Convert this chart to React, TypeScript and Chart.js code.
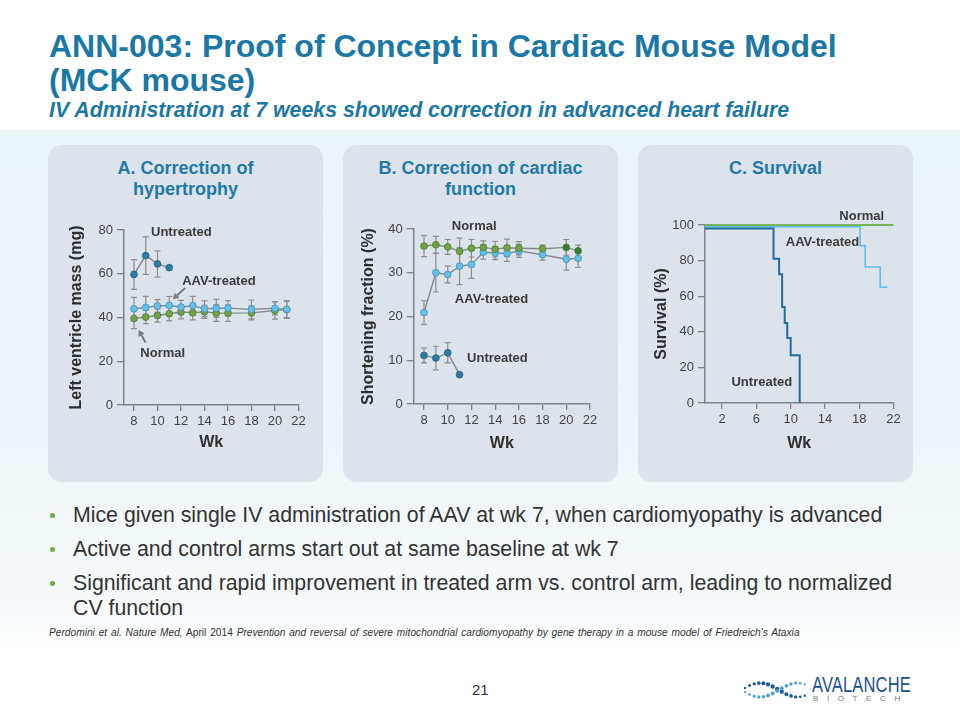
import React, { useEffect, useRef } from "react";
import { Chart, registerables } from "chart.js";
Chart.register(...registerables);

const FONT = "'Liberation Sans', Arial, Helvetica, sans-serif";

// ---------- Panel A: Left ventricle mass (mg) ----------
const weeks = [8, 9, 10, 11, 12, 13, 14, 15, 16, 18, 20, 21];
const weeksUntreated = [8, 9, 10, 11];
const lvmUntreated = [59.7, 68.3, 64.5, 62.8];
const lvmUntreatedErr = [6.8, 8.6, 6.0, 0];
const lvmAAV = [44.0, 44.6, 45.3, 45.5, 44.8, 45.4, 44.0, 44.2, 44.3, 43.7, 44.2, 43.7];
const lvmAAVErr = [5.2, 5.1, 2.9, 4.1, 3.0, 4.3, 3.6, 4.1, 3.4, 4.3, 3.0, 3.8];
const lvmNormal = [39.5, 40.2, 40.9, 41.7, 42.5, 42.2, 42.6, 42.0, 42.0, 42.1, 43.2, 43.6];
const lvmNormalErr = [4.6, 3.0, 3.0, 3.2, 3.1, 3.3, 3.0, 3.8, 3.8, 3.2, 3.9, 4.0];

// ---------- Panel B: Shortening fraction (%) ----------
const sfNormal = [36.1, 36.4, 35.9, 34.9, 35.6, 35.8, 35.4, 35.7, 35.6, 35.5, 35.8, 35.0];
const sfNormalErr = [2.4, 1.9, 1.7, 3.0, 2.0, 1.5, 1.8, 2.0, 1.5, 0.8, 1.8, 1.3];
const sfAAV = [20.9, 30.0, 29.6, 31.5, 31.9, 34.7, 34.5, 34.4, 35.0, 34.1, 33.1, 33.3];
const sfAAVErr = [2.7, 4.4, 1.9, 4.2, 3.2, 1.6, 1.5, 1.8, 1.5, 1.2, 2.5, 2.1];
const sfUntreated = [11.1, 10.5, 11.7, 6.7];
const sfUntreatedErr = [1.7, 2.7, 2.3, 0];

// ---------- Panel C: Survival (%) ----------
const survWeeksUntreated = [0, 8.0, 8.65, 9.0, 9.3, 9.6, 10.0, 11.05];
const survUntreated = [98, 81, 72.3, 54, 45, 36.5, 26.8, 0];
const survWeeksAAV = [0, 18.1, 18.7, 20.45, 21.3];
const survAAV = [99, 88.4, 76.4, 65, 65];
const survWeeksNormal = [0, 22];
const survNormal = [100, 100];

// ---------- Tick labels ----------
const xTicksAB = [8, 10, 12, 14, 16, 18, 20, 22];
const yTicksA = [0, 20, 40, 60, 80];
const yTicksB = [0, 10, 20, 30, 40];
const xTicksC = [2, 6, 10, 14, 18, 22];
const yTicksC = [0, 20, 40, 60, 80, 100];

const AXIS = "#7e8185";
const LINE_GRAY = "#85898d";
const ERR_GRAY = "#8a8d91";
const TEXT_DARK = "#2e2e2e";
const C_UNTREATED = "#2c7ba2";
const C_AAV = "#5cc1ec";
const C_NORMAL = "#6ea443";
const C_NORMAL_DARK = "#2f7f2e";

type Err = { xs: number[]; ys: number[]; err: number[] };
type Lbl = { text: string; x: number; y: number };
type Arr = { x1: number; y1: number; x2: number; y2: number };

function overlay(errs: Err[], labels: Lbl[], arrows: Arr[]) {
  return {
    id: "overlay",
    beforeDatasetsDraw(chart: any) {
      const { ctx, scales } = chart;
      const x = scales.x, y = scales.y;
      ctx.save();
      ctx.strokeStyle = ERR_GRAY;
      ctx.lineWidth = 1.2;
      errs.forEach((eb) => {
        eb.xs.forEach((xv, i) => {
          const e = eb.err[i];
          if (!e) return;
          const px = x.getPixelForValue(xv);
          const y1 = y.getPixelForValue(eb.ys[i] - e);
          const y2 = y.getPixelForValue(eb.ys[i] + e);
          ctx.beginPath();
          ctx.moveTo(px, y1);
          ctx.lineTo(px, y2);
          ctx.moveTo(px - 3, y1);
          ctx.lineTo(px + 3, y1);
          ctx.moveTo(px - 3, y2);
          ctx.lineTo(px + 3, y2);
          ctx.stroke();
        });
      });
      ctx.restore();
    },
    afterDraw(chart: any) {
      const { ctx, scales } = chart;
      const x = scales.x, y = scales.y;
      ctx.save();
      ctx.fillStyle = "#3a3a3a";
      ctx.font = `bold 13px ${FONT}`;
      ctx.textAlign = "left";
      ctx.textBaseline = "middle";
      labels.forEach((l) => {
        ctx.fillText(l.text, x.getPixelForValue(l.x), y.getPixelForValue(l.y));
      });
      ctx.strokeStyle = "#7a7a7a";
      ctx.fillStyle = "#7a7a7a";
      ctx.lineWidth = 2;
      arrows.forEach((a) => {
        const p1x = x.getPixelForValue(a.x1), p1y = y.getPixelForValue(a.y1);
        const p2x = x.getPixelForValue(a.x2), p2y = y.getPixelForValue(a.y2);
        const ang = Math.atan2(p2y - p1y, p2x - p1x);
        const hl = 6, hw = 3.5;
        const bx = p2x - hl * Math.cos(ang), by = p2y - hl * Math.sin(ang);
        ctx.beginPath();
        ctx.moveTo(p1x, p1y);
        ctx.lineTo(bx, by);
        ctx.stroke();
        ctx.beginPath();
        ctx.moveTo(p2x, p2y);
        ctx.lineTo(bx + hw * Math.sin(ang), by - hw * Math.cos(ang));
        ctx.lineTo(bx - hw * Math.sin(ang), by + hw * Math.cos(ang));
        ctx.closePath();
        ctx.fill();
      });
      ctx.restore();
    },
  };
}

function xScale(min: number, max: number, ticks: number[], h: number) {
  return {
    type: "linear",
    min,
    max,
    afterBuildTicks: (s: any) => {
      s.ticks = ticks.map((v) => ({ value: v }));
    },
    afterFit: (s: any) => {
      s.height = h;
    },
    grid: { display: true, drawOnChartArea: false, drawTicks: true, tickLength: 6, color: AXIS, lineWidth: 1.3 },
    border: { display: true, color: AXIS, width: 1.5 },
    ticks: { color: "#444", font: { size: 13, family: FONT }, padding: 3, maxRotation: 0, autoSkip: false },
    title: { display: true, text: "Wk", color: TEXT_DARK, font: { size: 16, weight: "bold", family: FONT }, padding: { top: 4, bottom: 4 } },
  };
}

function yScale(min: number, max: number, ticks: number[], w: number, title: string) {
  return {
    type: "linear",
    min,
    max,
    afterBuildTicks: (s: any) => {
      s.ticks = ticks.map((v) => ({ value: v }));
    },
    afterFit: (s: any) => {
      s.width = w;
    },
    grid: { display: true, drawOnChartArea: false, drawTicks: true, tickLength: 7, color: AXIS, lineWidth: 1.3 },
    border: { display: true, color: AXIS, width: 1.5 },
    ticks: { color: "#444", font: { size: 13, family: FONT }, padding: 4, autoSkip: false },
    title: { display: true, text: title, color: TEXT_DARK, font: { size: 16, weight: "bold", family: FONT }, padding: { top: 4, bottom: 4 } },
  };
}

function pointDs(xs: number[], ys: number[], color: any, border: string) {
  return {
    data: xs.map((x, i) => ({ x, y: ys[i] })),
    borderColor: LINE_GRAY,
    borderWidth: 1.4,
    pointBackgroundColor: color,
    pointBorderColor: border,
    pointBorderWidth: 0.8,
    pointRadius: 3.4,
    pointHoverRadius: 3.4,
    tension: 0,
    clip: false,
  };
}

function baseOptions(padding: any, scales: any) {
  return {
    responsive: false,
    animation: false,
    devicePixelRatio: 1,
    layout: { padding },
    plugins: { legend: { display: false }, tooltip: { enabled: false }, title: { display: false } },
    events: [],
    scales,
  };
}

function makeA() {
  return {
    type: "line",
    data: {
      datasets: [
        pointDs(weeksUntreated, lvmUntreated, C_UNTREATED, "#2a5f7a"),
        pointDs(weeks, lvmAAV, C_AAV, "#4a8fae"),
        pointDs(weeks, lvmNormal, C_NORMAL, "#4f7a33"),
      ],
    },
    options: baseOptions(
      { left: 15, top: 30, right: 24.5, bottom: 14 },
      { x: xScale(7.15, 22, xTicksAB, 51), y: yScale(0, 80, yTicksA, 61, "Left ventricle mass (mg)") }
    ),
    plugins: [
      overlay(
        [
          { xs: weeksUntreated, ys: lvmUntreated, err: lvmUntreatedErr },
          { xs: weeks, ys: lvmAAV, err: lvmAAVErr },
          { xs: weeks, ys: lvmNormal, err: lvmNormalErr },
        ],
        [
          { text: "Untreated", x: 9.45, y: 79 },
          { text: "AAV-treated", x: 12.1, y: 56.7 },
          { text: "Normal", x: 8.54, y: 23.8 },
        ],
        [
          { x1: 12.35, y1: 53.5, x2: 11.3, y2: 48.3 },
          { x1: 8.98, y1: 28.6, x2: 8.4, y2: 34.3 },
        ]
      ),
    ],
  };
}

function makeB() {
  return {
    type: "line",
    data: {
      datasets: [
        pointDs(weeks, sfNormal, weeks.map((w) => (w >= 20 ? C_NORMAL_DARK : C_NORMAL)), "#4f7a33"),
        pointDs(weeks, sfAAV, C_AAV, "#4a8fae"),
        pointDs(weeksUntreated, sfUntreated, C_UNTREATED, "#2a5f7a"),
      ],
    },
    options: baseOptions(
      { left: 12, top: 29, right: 28, bottom: 13 },
      { x: xScale(7.13, 22, xTicksAB, 53), y: yScale(0, 40, yTicksB, 58.7, "Shortening fraction (%)") }
    ),
    plugins: [
      overlay(
        [
          { xs: weeks, ys: sfNormal, err: sfNormalErr },
          { xs: weeks, ys: sfAAV, err: sfAAVErr },
          { xs: weeksUntreated, ys: sfUntreated, err: sfUntreatedErr },
        ],
        [
          { text: "Normal", x: 10.34, y: 40.7 },
          { text: "AAV-treated", x: 10.6, y: 23.9 },
          { text: "Untreated", x: 11.63, y: 10.4 },
        ],
        []
      ),
    ],
  };
}

function makeC() {
  const line = (xs: number[], ys: number[], color: string, w: number) => ({
    data: xs.map((x, i) => ({ x, y: ys[i] })),
    borderColor: color,
    borderWidth: w,
    pointRadius: 0,
    pointHoverRadius: 0,
    stepped: true,
    clip: false,
  });
  return {
    type: "line",
    data: {
      datasets: [
        line(survWeeksUntreated, survUntreated, "#1f6e9c", 2),
        line(survWeeksAAV, survAAV, "#5cbde9", 1.6),
        line(survWeeksNormal, survNormal, "#79b35a", 1.8),
      ],
    },
    options: baseOptions(
      { left: 10, top: 25, right: 19.5, bottom: 13 },
      { x: xScale(0, 22, xTicksC, 54), y: yScale(0, 100, yTicksC, 57, "Survival (%)") }
    ),
    plugins: [
      overlay(
        [],
        [
          { text: "Normal", x: 15.68, y: 105 },
          { text: "AAV-treated", x: 9.43, y: 90 },
          { text: "Untreated", x: 3.09, y: 11.3 },
        ],
        []
      ),
    ],
  };
}

function ChartCanvas({ make, left, top }: { make: () => any; left: number; top: number }) {
  const ref = useRef<HTMLCanvasElement>(null);
  useEffect(() => {
    const chart = new Chart(ref.current as HTMLCanvasElement, make());
    return () => chart.destroy();
  }, []);
  return (
    <canvas
      ref={ref}
      width={275}
      height={270}
      style={{ position: "absolute", left, top, width: 275, height: 270 }}
    />
  );
}

const panelStyle = (left: number): React.CSSProperties => ({
  position: "absolute",
  left,
  top: 145,
  width: 275,
  height: 337,
  background: "#dde3ea",
  borderRadius: 14,
});

const panelTitle = (left: number): React.CSSProperties => ({
  position: "absolute",
  left,
  top: 158,
  width: 275,
  textAlign: "center",
  color: "#1f7aa8",
  fontWeight: "bold",
  fontSize: 18,
  lineHeight: "21px",
});

const bullets = [
  ["Mice given single IV administration of AAV at wk 7, when cardiomyopathy is advanced"],
  ["Active and control arms start out at same baseline at wk 7"],
  ["Significant and rapid improvement in treated arm vs. control arm, leading to normalized", "CV function"],
];

function Logo() {
  const dots: any[] = [];
  for (let i = 0; i < 14; i++) {
    const x = 745 + i * 4.6;
    const ph = (i / 13) * Math.PI * 1.6;
    const a = 7 * Math.sin(ph + 0.3);
    const r = 1.2 + 1.0 * Math.sin((i / 13) * Math.PI);
    dots.push(<circle key={"a" + i} cx={x - 740} cy={11 - a} r={r} fill="#1d5c9c" />);
    dots.push(<circle key={"b" + i} cx={x - 740} cy={11 + a} r={r * 0.9} fill="#4aa3d8" />);
  }
  return (
    <>
      <svg style={{ position: "absolute", left: 740, top: 679 }} width={72} height={24}>
        {dots}
      </svg>
      <div
        style={{
          position: "absolute",
          left: 812,
          top: 672,
          fontSize: 22,
          color: "#1b4f8f",
          transform: "scaleX(0.75)",
          transformOrigin: "left top",
          letterSpacing: 0.2,
          whiteSpace: "nowrap",
        }}
      >
        AVALANCHE
      </div>
      <div
        style={{
          position: "absolute",
          left: 813,
          top: 694,
          fontSize: 8,
          color: "#7a7a7a",
          letterSpacing: 8.6,
          whiteSpace: "nowrap",
        }}
      >
        BIOTECH
      </div>
    </>
  );
}

export default function App() {
  return (
    <div
      style={{
        position: "absolute",
        left: 0,
        top: 0,
        width: 960,
        height: 720,
        overflow: "hidden",
        background: "#ffffff",
        fontFamily: FONT,
      }}
    >
      <div
        style={{
          position: "absolute",
          left: 0,
          top: 130,
          width: 960,
          height: 525,
          background: "linear-gradient(#ebf4f7 0%, #eef5f8 60%, #f5f9fa 88%, #ffffff 100%)",
        }}
      />
      <div
        style={{
          position: "absolute",
          left: 49,
          top: 29,
          fontSize: 32,
          lineHeight: "34px",
          fontWeight: "bold",
          color: "#1a78a6",
          whiteSpace: "nowrap",
        }}
      >
        ANN-003: Proof of Concept in Cardiac Mouse Model
        <br />
        (MCK mouse)
      </div>
      <div
        style={{
          position: "absolute",
          left: 49,
          top: 98,
          fontSize: 21.3,
          lineHeight: "25px",
          fontWeight: "bold",
          fontStyle: "italic",
          color: "#1a78a6",
          whiteSpace: "nowrap",
        }}
      >
        IV Administration at 7 weeks showed correction in advanced heart failure
      </div>

      <div style={panelStyle(48)} />
      <div style={panelStyle(343)} />
      <div style={panelStyle(638)} />
      <div style={panelTitle(48)}>
        A. Correction of
        <br />
        hypertrophy
      </div>
      <div style={panelTitle(343)}>
        B. Correction of cardiac
        <br />
        function
      </div>
      <div style={panelTitle(638)}>C. Survival</div>

      <ChartCanvas make={makeA} left={48} top={200} />
      <ChartCanvas make={makeB} left={343} top={200} />
      <ChartCanvas make={makeC} left={638} top={200} />

      <div style={{ position: "absolute", left: 0, top: 503, width: 960 }}>
        {bullets.map((b, i) => (
          <div key={i} style={{ position: "relative", marginBottom: 9 }}>
            <div
              style={{
                position: "absolute",
                left: 50,
                top: 10,
                width: 5,
                height: 5,
                borderRadius: 3,
                background: "#6aad3f",
              }}
            />
            <div
              style={{
                marginLeft: 73,
                fontSize: 21.3,
                lineHeight: "25px",
                color: "#333",
                whiteSpace: "nowrap",
              }}
            >
              {b.map((t, j) => (
                <div key={j}>{t}</div>
              ))}
            </div>
          </div>
        ))}
      </div>

      <div
        style={{
          position: "absolute",
          left: 49,
          top: 627,
          fontSize: 10.2,
          color: "#333",
          whiteSpace: "nowrap",
          wordSpacing: 1,
        }}
      >
        <i>Perdomini et al. Nature Med,</i> April 2014{" "}
        <i>
          Prevention and reversal of severe mitochondrial cardiomyopathy by gene therapy in a mouse model of
          Friedreich's Ataxia
        </i>
      </div>

      <div style={{ position: "absolute", left: 472, top: 681, fontSize: 15, color: "#333" }}>21</div>
      <Logo />
    </div>
  );
}
